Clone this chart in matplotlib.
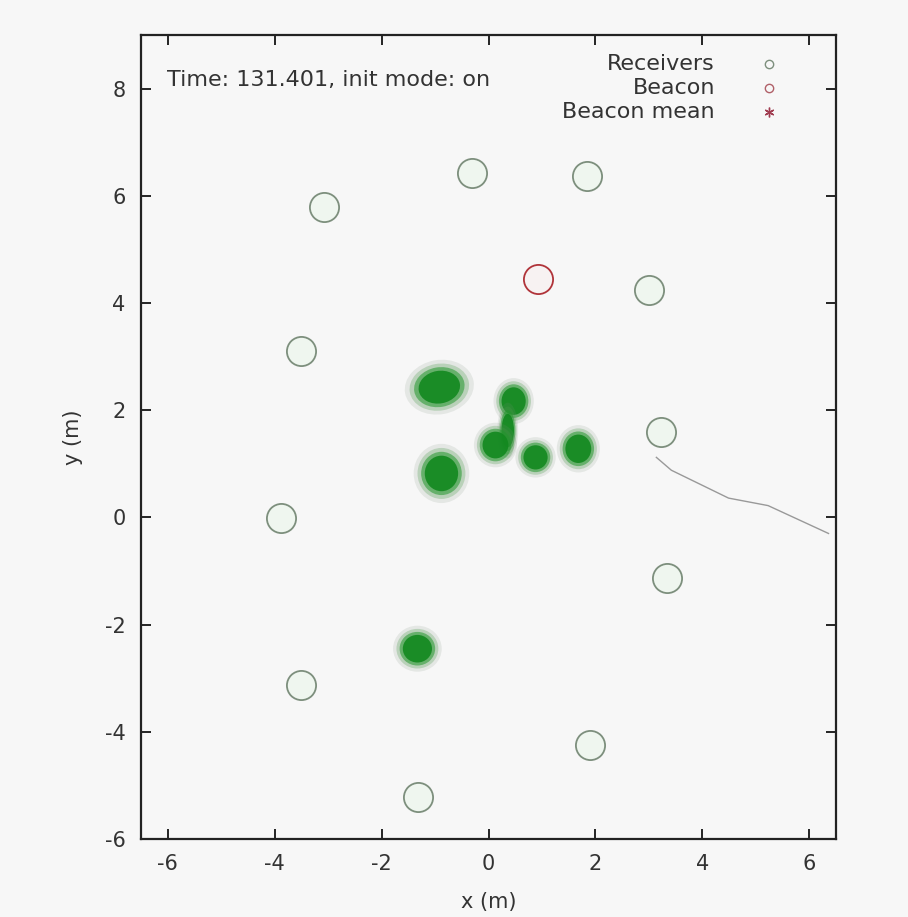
import matplotlib.pyplot as plt
from matplotlib.patches import Ellipse

# receiver positions (m)
rx_x = [-3.07, -0.30, 1.85, 3.01, -3.51, 3.23, -3.89, 3.33, -3.50, 1.89, -1.31]
rx_y = [5.79, 6.43, 6.37, 4.24, 3.10, 1.59, -0.02, -1.14, -3.12, -4.24, -5.21]

# beacon position (m)
beacon_x = [0.93]
beacon_y = [4.45]

# particle clouds: centre x, centre y, width, height, angle
cloud_x = [-0.92, -0.88, 0.47, 0.36, 0.13, 0.88, 1.68, -1.33]
cloud_y = [2.43, 0.82, 2.17, 1.62, 1.35, 1.12, 1.28, -2.45]
cloud_w = [1.00, 0.80, 0.58, 0.30, 0.62, 0.58, 0.62, 0.70]
cloud_h = [0.78, 0.85, 0.66, 0.80, 0.64, 0.58, 0.68, 0.66]
cloud_a = [10, 0, 0, 0, 0, 0, 0, 0]

# beacon trail
trail_x = [3.14, 3.42, 4.49, 5.23, 6.36]
trail_y = [1.12, 0.88, 0.36, 0.22, -0.30]

legend_labels = ['Receivers', 'Beacon', 'Beacon mean']

bg = '#f7f7f7'
plt.rcParams['font.family'] = ['DejaVu Sans']
plt.rcParams['axes.unicode_minus'] = False

fig = plt.figure(figsize=(9.08, 9.17), dpi=100, facecolor=bg)
ax = fig.add_axes([0.1553, 0.0851, 0.7654, 0.8767], facecolor=bg)

# clouds drawn as soft layered ellipses
layers = [(1.3, '#7a8f7a', 0.15), (1.12, '#4a9a4a', 0.28),
          (0.95, '#22962c', 0.55), (0.78, '#12881f', 0.9)]
for x, y, w, h, a in zip(cloud_x, cloud_y, cloud_w, cloud_h, cloud_a):
    for s, c, al in layers:
        ax.add_patch(Ellipse((x, y), w * s, h * s, angle=a, facecolor=c,
                             edgecolor='none', alpha=al, zorder=2))

ax.plot(trail_x, trail_y, color='#999999', lw=1.0, zorder=2)

ax.plot(rx_x, rx_y, 'o', ms=21, mfc='#eff6ef', mec='#7d8f7d', mew=1.3, ls='none', zorder=3)
ax.plot(beacon_x, beacon_y, 'o', ms=21, mfc='#f7f2f2', mec='#b0343a', mew=1.3, ls='none', zorder=3)

ax.set_xlim(-6.5, 6.5)
ax.set_ylim(-6, 9)
ax.set_xticks(range(-6, 7, 2))
ax.set_yticks(range(-6, 9, 2))
ax.tick_params(direction='in', length=7, width=1.2, top=True, right=True,
               labelsize=15, labelcolor='#333333', pad=11)
for sp in ax.spines.values():
    sp.set_linewidth(1.6)
    sp.set_color('#222222')

ax.set_xlabel('x (m)', fontsize=15, color='#333333', labelpad=13)
ax.set_ylabel('y (m)', fontsize=15, color='#333333', labelpad=16)

ax.text(0.038, 0.944, 'Time: 131.401, init mode: on', transform=ax.transAxes,
        fontsize=16, color='#333333', va='center', ha='left')

# legend, gnuplot style: right-aligned labels with keys to the right
key_style = [dict(marker='o', ms=6, mfc='none', mec='#7d8f7d'),
             dict(marker='o', ms=6, mfc='none', mec='#b06068'),
             dict(marker=(6, 2, 0), ms=7, mec='#a03c50')]
for i, (lab, st) in enumerate(zip(legend_labels, key_style)):
    yy = 0.964 - i * 0.0297
    ax.text(0.826, yy, lab, transform=ax.transAxes, fontsize=16,
            color='#333333', ha='right', va='center')
    ax.plot([0.904], [yy], transform=ax.transAxes, ls='none', mew=1.0, **st)

fig.savefig('out.png', dpi=100, facecolor=bg)
